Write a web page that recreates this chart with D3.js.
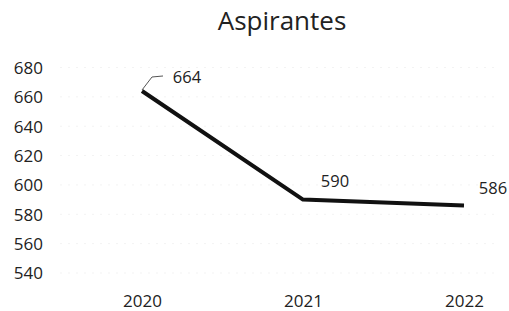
<!DOCTYPE html>
<html>
<head>
<meta charset="utf-8">
<script src="https://cdn.jsdelivr.net/npm/d3@7"></script>
<style>
  body { margin: 0; background: #fff; }
  svg text { font-family: "Open Sans", "Noto Sans", sans-serif; fill: #222; }
</style>
</head>
<body>
<div id="chart"></div>
<script>
const years = ['2020', '2021', '2022'];
const aspirantes = [664, 590, 586];
const yTicks = [540, 560, 580, 600, 620, 640, 660, 680];

const width = 509, height = 311;

const svg = d3.select('#chart').append('svg')
  .attr('width', width)
  .attr('height', height);

const x = d3.scalePoint().domain(years).range([142, 464]);
const y = d3.scaleLinear().domain([540, 680]).range([273, 67.5]);

// title
svg.append('text')
  .attr('x', 282).attr('y', 30)
  .attr('text-anchor', 'middle')
  .style('font-size', '26px')
  .text('Aspirantes');

// faint gridlines
svg.append('g').selectAll('line')
  .data(yTicks)
  .enter().append('line')
    .attr('x1', 60).attr('x2', 500)
    .attr('y1', d => y(d)).attr('y2', d => y(d))
    .attr('stroke', '#f3f3f3')
    .attr('stroke-dasharray', '2,6');

// y axis labels
const yAxis = svg.append('g')
  .attr('transform', 'translate(43,0)')
  .call(d3.axisLeft(y).tickValues(yTicks).tickSize(0).tickPadding(0));
yAxis.select('.domain').remove();
yAxis.selectAll('text').style('font-size', '17px').attr('fill', '#222').attr('dy', '0.35em');

// x axis labels
const xAxis = svg.append('g')
  .attr('transform', 'translate(0,301.5)')
  .call(d3.axisBottom(x).tickSize(0).tickPadding(0));
xAxis.select('.domain').remove();
xAxis.selectAll('text').style('font-size', '17px').attr('fill', '#222').attr('dy', '0.35em');

const data = years.map((yr, i) => ({ year: yr, value: aspirantes[i] }));

// line
svg.append('path')
  .datum(data)
  .attr('fill', 'none')
  .attr('stroke', '#111')
  .attr('stroke-width', 4)
  .attr('stroke-linejoin', 'round')
  .attr('d', d3.line().x(d => x(d.year)).y(d => y(d.value)));

// data labels
const labelOffsets = [[45, -14], [32, -18], [29, -17]];
svg.append('g').selectAll('text')
  .data(data)
  .enter().append('text')
    .attr('x', (d, i) => x(d.year) + labelOffsets[i][0])
    .attr('y', (d, i) => y(d.value) + labelOffsets[i][1])
    .attr('dy', '0.35em')
    .attr('text-anchor', 'middle')
    .style('font-size', '16.5px')
    .text(d => d.value);

// leader line for first label
const p0 = data[0];
svg.append('path')
  .attr('fill', 'none')
  .attr('stroke', '#555')
  .attr('stroke-width', 1)
  .attr('d', `M${x(p0.year)},${y(p0.value) - 1} L${x(p0.year) + 10},${y(p0.value) - 14} L${x(p0.year) + 21},${y(p0.value) - 15}`);
</script>
</body>
</html>
